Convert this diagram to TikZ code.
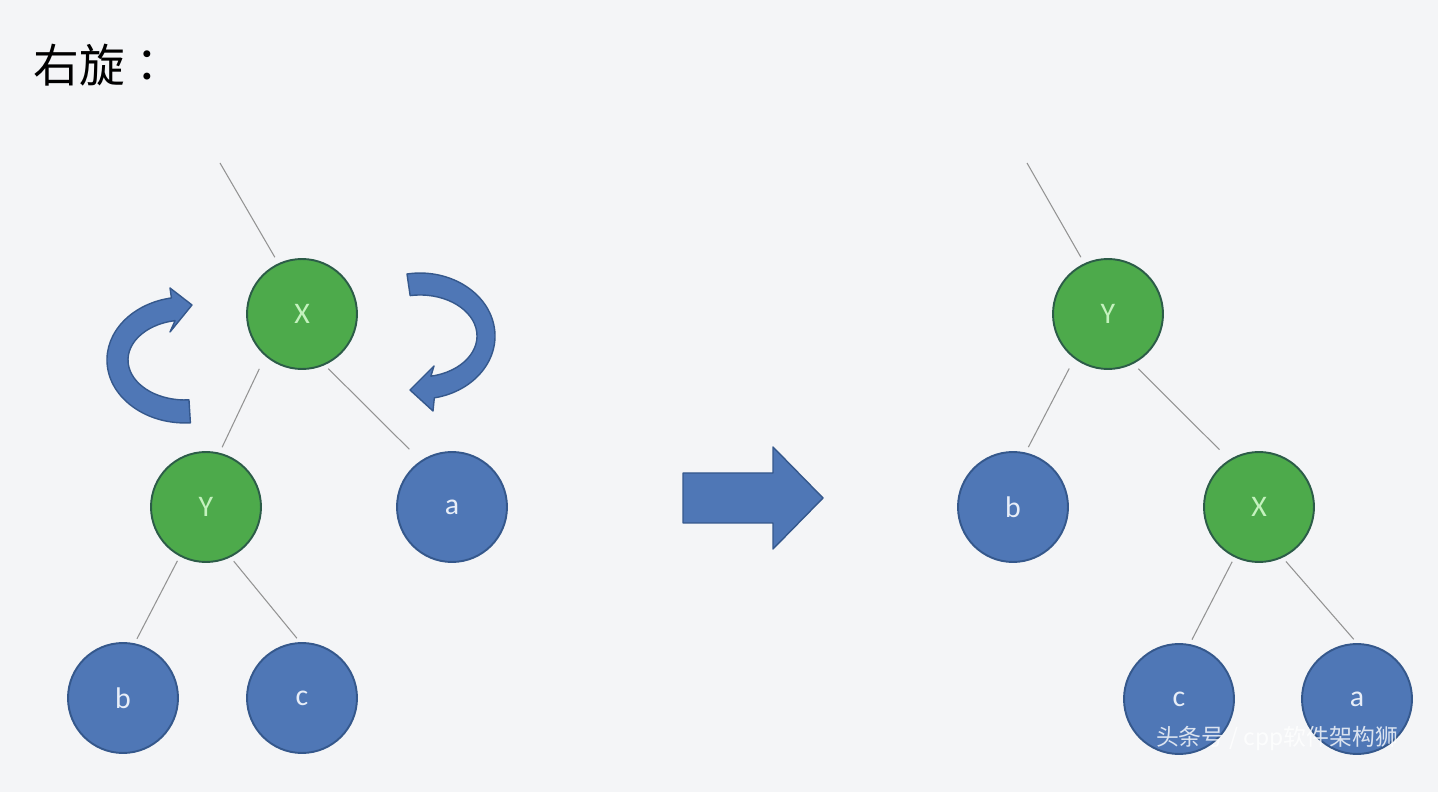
\documentclass[tikz,border=0pt]{standalone}
\usepackage{fontspec}
\setmainfont{Carlito}
\newfontfamily\cjk{Noto Sans CJK SC}
\newfontfamily\cjktc{Noto Sans CJK TC}
\usetikzlibrary{calc}
\definecolor{bg}{HTML}{F4F5F7}
\definecolor{nodeblue}{HTML}{4F77B6}
\definecolor{rimblue}{HTML}{35588C}
\definecolor{nodegreen}{HTML}{4DAA4B}
\definecolor{rimgreen}{HTML}{2C5C48}
\definecolor{txtgreen}{HTML}{C4F2BE}
\definecolor{txtblue}{HTML}{E8EEF8}

\begin{document}
\begin{tikzpicture}[x=0.02cm,y=0.02cm,
 tnode/.style={circle,minimum size=2.2cm,inner sep=0pt,line width=1.1pt,font=\fontsize{17}{20}\selectfont},
 green node/.style={tnode,fill=nodegreen,draw=rimgreen,text=txtgreen},
 blue node/.style={tnode,fill=nodeblue,draw=rimblue,text=txtblue},
 edge/.style={draw=gray!85,line width=0.6pt,shorten <=0.1cm,shorten >=0.1cm},
 turn/.style={fill=nodeblue,draw=rimblue,line width=0.8pt,line join=round}]
 \fill[bg] (0,0) rectangle (1438,792);
 \useasboundingbox (0,0) rectangle (1438,792);
 \node[font=\cjktc\fontsize{26}{30}\selectfont,anchor=west,inner sep=0pt] (title) at (33,727) {右旋：};
 % before
 \foreach \n/\x/\y/\t in {lX/302/478/X,lY/206/285/Y}
  \node[green node] (\n) at (\x,\y) {\t};
 \foreach \n/\x/\y/\t in {la/452/285/a,lb/123/94/b,lc/302/94/c}
  \node[blue node] (\n) at (\x,\y) {\t};
 \coordinate (ltop) at (220,629);
 \draw[edge,shorten <=0pt,shorten >=0.14cm] (ltop) -- (lX.115);
 \draw[edge,shorten <=0.28cm,shorten >=0.12cm] (lX.229) -- (lY.76);
 \draw[edge,shorten >=0.32cm] (lX.294) -- (la.124);
 \draw[edge] (lY.242) -- (lb.78);
 \draw[edge] (lY.296) -- (lc.92);
 % turning arrows
 \filldraw[turn] (190.4,369.2) arc[start angle=274,end angle=100,x radius=1.56cm,y radius=1.26cm]
  -- (170,504) -- (192,487) -- (170,460) -- (175.1,471.4)
  arc[start angle=100,end angle=274,x radius=1.14cm,y radius=0.8cm] -- cycle;
 \filldraw[turn] (407,518) arc[start angle=100,end angle=-79,x radius=1.5cm,y radius=1.26cm]
  -- (433,381) -- (410,402) -- (434,426) -- (430.9,415.8)
  arc[start angle=-79,end angle=100,x radius=1.14cm,y radius=0.82cm] -- cycle;
 % big arrow
 \filldraw[turn] (683,319) -- (773,319) -- (773,345) -- (823,294) -- (773,243) -- (773,269) -- (683,269) -- cycle;
 % after
 \foreach \n/\x/\y/\t in {rY/1108/478/Y,rX/1259/285/X}
  \node[green node] (\n) at (\x,\y) {\t};
 \foreach \n/\x/\y/\t in {rb/1013/285/b,rc/1179/93/c,ra/1357/93/a}
  \node[blue node] (\n) at (\x,\y) {\t};
 \coordinate (rtop) at (1027,629);
 \draw[edge,shorten <=0pt,shorten >=0.14cm] (rtop) -- (rY.115);
 \draw[edge,shorten <=0.22cm,shorten >=0.12cm] (rY.233) -- (rb.77);
 \draw[edge,shorten <=0.14cm,shorten >=0.28cm] (rY.297) -- (rX.122);
 \draw[edge] (rX.244) -- (rc.79);
 \draw[edge] (rX.295) -- (ra.90);
 \node[font=\cjk\fontsize{13}{15}\selectfont,text=white,text opacity=0.8,inner sep=0pt] (mark) at (1277,54) {头条号 / cpp软件架构狮};
\end{tikzpicture}
\end{document}
